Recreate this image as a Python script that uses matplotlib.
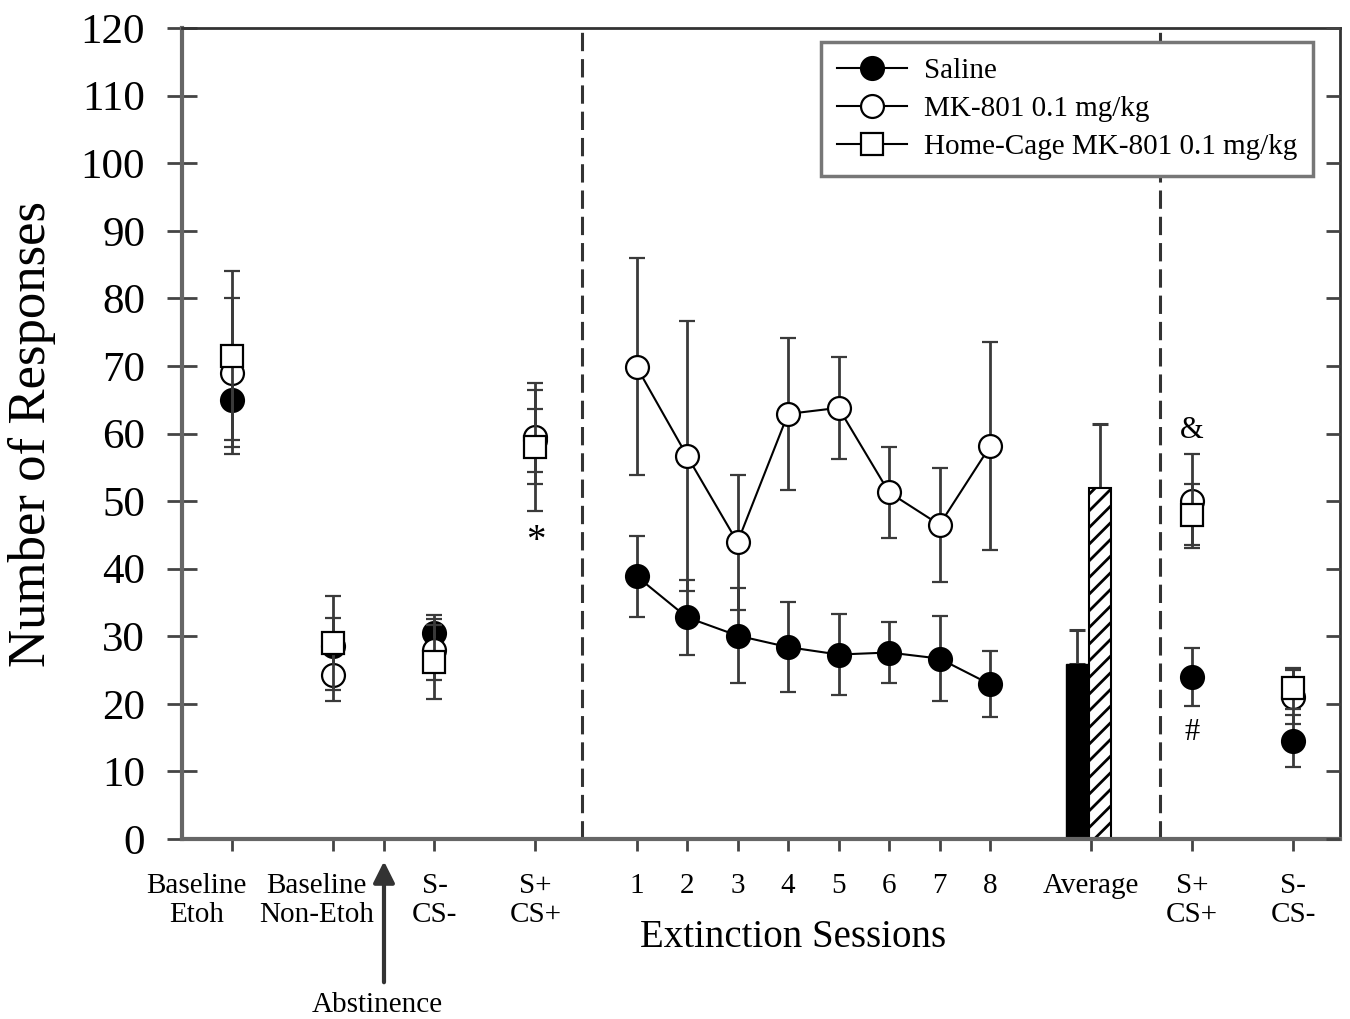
import matplotlib
matplotlib.use('Agg')
import matplotlib.pyplot as plt
import matplotlib.transforms as mtransforms
from matplotlib.lines import Line2D

plt.rcParams['font.family'] = ['Liberation Serif', 'DejaVu Serif']
plt.rcParams['hatch.linewidth'] = 2.0

# x positions of the groups
pre_x = [1, 3, 5, 7]
sess_x = [9, 10, 11, 12, 13, 14, 15, 16]
post_x = [20, 22]
avg_x = [17.73, 18.17]

tick_pos = [1, 3, 4, 5, 7, 9, 10, 11, 12, 13, 14, 15, 16, 18, 20, 22]
tick_lab = ['Baseline\nEtoh', 'Baseline\nNon-Etoh', '', 'S-\nCS-', 'S+\nCS+',
            '1', '2', '3', '4', '5', '6', '7', '8', 'Average', 'S+\nCS+', 'S-\nCS-']

# Saline
sal_pre = [65, 28.5, 30.5, 59]
sal_pre_err = [8, 4.2, 2.6, 4.7]
sal_sess = [38.9, 32.8, 30.1, 28.4, 27.3, 27.6, 26.7, 22.9]
sal_sess_err = [6, 5.6, 7, 6.7, 6, 4.5, 6.3, 4.9]
sal_post = [24, 14.5]
sal_post_err = [4.3, 3.8]

# MK-801 0.1 mg/kg
mk_pre = [69, 24.2, 28, 59.5]
mk_pre_err = [11, 3.8, 4.5, 7]
mk_sess = [69.9, 56.7, 43.9, 62.9, 63.8, 51.3, 46.5, 58.1]
mk_sess_err = [16, 20, 10, 11.2, 7.5, 6.7, 8.4, 15.4]
mk_post = [50, 21]
mk_post_err = [7, 4]

# Home-Cage MK-801 0.1 mg/kg
hc_pre = [71.5, 29, 26.2, 58]
hc_pre_err = [12.5, 7, 5.5, 9.5]
hc_post = [48, 22.3]
hc_post_err = [4.5, 3]

# Average of extinction sessions (Saline, MK-801)
avg_vals = [25.9, 51.9]
avg_err = [5, 9.5]

ecol = '#3a3a3a'
styles = {
    'sal': dict(marker='o', ms=16.5, mfc='black', mec='black', mew=1.6),
    'mk': dict(marker='o', ms=16.5, mfc='white', mec='black', mew=1.6),
    'hc': dict(marker='s', ms=15.5, mfc='white', mec='black', mew=1.6),
}


def points(ax, x, y, err, key, z, line=False):
    ax.errorbar(x, y, yerr=err, ls='-' if line else 'none', color='black', lw=1.5,
                ecolor=ecol, elinewidth=2, capsize=6, capthick=2.2,
                zorder=z, **styles[key])


fig = plt.figure(figsize=(13.5, 10.19), dpi=100)
ax = fig.add_axes([0.1348, 0.1766, 0.8578, 0.7959])

# average bars
ax.bar(avg_x[0], avg_vals[0], width=0.435, color='black', edgecolor='black', zorder=2)
ax.bar(avg_x[1], avg_vals[1], width=0.435, color='white', edgecolor='black',
       hatch='//', lw=1.5, zorder=2)
ax.errorbar(avg_x, avg_vals, yerr=[[0, 0], avg_err], fmt='none', ecolor=ecol,
            elinewidth=2, capsize=6, capthick=2.2, zorder=1.5)

points(ax, pre_x, sal_pre, sal_pre_err, 'sal', 3)
points(ax, sess_x, sal_sess, sal_sess_err, 'sal', 3, line=True)
points(ax, post_x, sal_post, sal_post_err, 'sal', 3)
points(ax, pre_x, mk_pre, mk_pre_err, 'mk', 4)
points(ax, sess_x, mk_sess, mk_sess_err, 'mk', 4, line=True)
points(ax, post_x, mk_post, mk_post_err, 'mk', 4)
points(ax, pre_x, hc_pre, hc_pre_err, 'hc', 5)
points(ax, post_x, hc_post, hc_post_err, 'hc', 5)

# section dividers
for xd in [7.92, 19.37]:
    ax.axvline(xd, color='#333333', lw=2.2, ls=(0, (6, 2.6)), zorder=1)

# significance marks
ax.text(7, 44.0, '*', fontsize=28, ha='center', va='center')
ax.text(20, 60.5, '&', fontsize=22, ha='center', va='center')
ax.text(20, 15.8, '#', fontsize=22, ha='center', va='center')

ax.set_xlim(0, 22.93)
ax.set_ylim(0, 120)
ax.set_yticks(range(0, 121, 10))
ax.set_xticks(tick_pos)
ax.set_xticklabels(tick_lab, fontsize=21, linespacing=1.15)
ax.tick_params(axis='y', direction='inout', length=21, width=2, labelsize=31,
               pad=16, colors='#444444', labelcolor='black', right=False)
ax.tick_params(axis='x', direction='out', length=8.5, width=2, pad=16,
               colors='#444444', labelcolor='black')
ax.set_ylabel('Number of Responses', fontsize=38, labelpad=18)

# the two baseline labels sit a little left of their ticks
for lab, dx in zip(ax.get_xticklabels()[:2], [-0.36, -0.17]):
    lab.set_transform(lab.get_transform() +
                      mtransforms.ScaledTranslation(dx, 0, fig.dpi_scale_trans))

for side in ['left', 'bottom']:
    ax.spines[side].set_color('#666666')
    ax.spines[side].set_linewidth(3)
for side in ['top', 'right']:
    ax.spines[side].set_color('#333333')
    ax.spines[side].set_linewidth(2)

# inward ticks on the right side
ax2 = ax.twinx()
ax2.set_ylim(0, 120)
ax2.set_yticks(range(0, 121, 10))
ax2.tick_params(axis='y', direction='in', length=10, width=2, colors='#444444',
                labelright=False)
for s in ax2.spines.values():
    s.set_visible(False)

tr = ax.get_xaxis_transform()
ax.text(12.1, -0.121, 'Extinction Sessions', transform=tr, fontsize=28,
        ha='center', va='center')
ax.annotate('', xy=(4, -0.024), xytext=(4, -0.18), xycoords=tr,
            arrowprops=dict(arrowstyle='-|>', color='#333333', lw=3,
                            mutation_scale=32), annotation_clip=False)
ax.text(3.87, -0.205, 'Abstinence', transform=tr, fontsize=21,
        ha='center', va='center')

handles = [
    Line2D([], [], color='black', lw=1.5, **styles['sal']),
    Line2D([], [], color='black', lw=1.5, **styles['mk']),
    Line2D([], [], color='black', lw=1.5, **styles['hc']),
]
leg = ax.legend(handles, ['Saline', 'MK-801 0.1 mg/kg', 'Home-Cage MK-801 0.1 mg/kg'],
                loc='upper right', bbox_to_anchor=(0.977, 0.983), borderaxespad=0,
                fontsize=21, handlelength=2.4, handletextpad=0.6, labelspacing=0.4,
                fancybox=False, framealpha=1, borderpad=0.55)
leg.get_frame().set_edgecolor('#777777')
leg.get_frame().set_linewidth(2.5)
leg.set_zorder(10)

fig.savefig('out.png', dpi=100)
